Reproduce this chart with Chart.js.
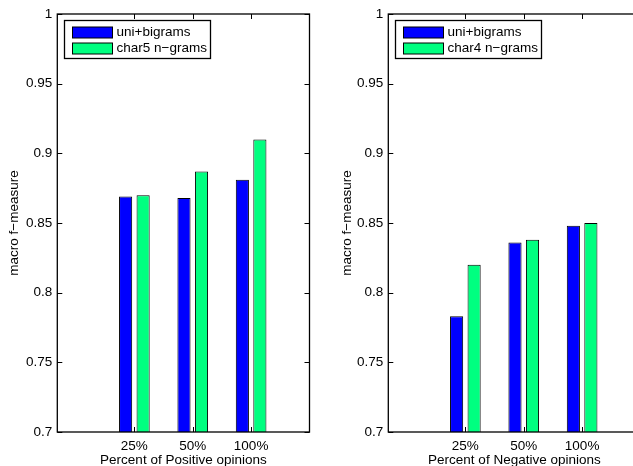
<!DOCTYPE html>
<html>
<head>
<meta charset="utf-8">
<script src="https://cdn.jsdelivr.net/npm/chart.js@4"></script>
<style>
  html, body { margin: 0; padding: 0; background: #fff; overflow: hidden; }
  #wrap { position: relative; width: 633px; height: 466px; overflow: hidden; }
  .panel { position: absolute; top: 0; height: 466px; }
  #left { left: 0; width: 320px; }
  #right { left: 320px; width: 330px; }
</style>
</head>
<body>
<div id="wrap">
  <div class="panel" id="left"><canvas id="chartPos"></canvas></div>
  <div class="panel" id="right"><canvas id="chartNeg"></canvas></div>
</div>
<script>
// data
let categories = ["25%", "50%", "100%"];
let yTicks = [0.7, 0.75, 0.8, 0.85, 0.9, 0.95, 1];

let posUniBigrams = [0.869, 0.868, 0.881];
let posChar5 = [0.870, 0.887, 0.910];

let negUniBigrams = [0.783, 0.836, 0.848];
let negChar4 = [0.820, 0.838, 0.850];

let BLUE = "rgb(0,0,255)";
let GREEN = "rgb(0,255,128)";
let FONT = "'Liberation Sans', Arial, Helvetica, sans-serif";

function points(values) {
    return values.map((v, i) => ({ x: i + 1, y: v }));
}

// box, inward ticks and legend like the matlab figure
let matlabFrame = {
    id: "matlabFrame",
    afterDraw(chart) {
        let ctx = chart.ctx;
        let a = chart.chartArea;
        let xs = chart.scales.x;
        let ys = chart.scales.y;
        let tl = 5;

        ctx.save();
        ctx.strokeStyle = "#000";
        ctx.lineWidth = 1;

        // y ticks on both sides
        ctx.beginPath();
        yTicks.forEach(t => {
            let y = Math.round(ys.getPixelForValue(t)) + 0.5;
            ctx.moveTo(a.left, y); ctx.lineTo(a.left + tl, y);
            ctx.moveTo(a.right, y); ctx.lineTo(a.right - tl, y);
        });
        // x ticks top and bottom
        categories.forEach((c, i) => {
            let x = Math.round(xs.getPixelForValue(i + 1)) + 0.5;
            ctx.moveTo(x, a.bottom); ctx.lineTo(x, a.bottom - tl);
            ctx.moveTo(x, a.top); ctx.lineTo(x, a.top + tl);
        });
        ctx.stroke();

        // legend
        let lx = Math.round(a.left + 7) + 0.5;
        let ly = Math.round(a.top + 6) + 0.5;
        ctx.font = "13.5px " + FONT;
        let maxW = 0;
        chart.data.datasets.forEach(ds => {
            maxW = Math.max(maxW, ctx.measureText(ds.label).width);
        });
        let lw = Math.round(52 + maxW + 4);
        let lh = 38;
        ctx.fillStyle = "#fff";
        ctx.fillRect(lx, ly, lw, lh);
        ctx.lineWidth = 1.3;
        ctx.strokeRect(lx, ly, lw, lh);
        ctx.lineWidth = 1;
        ctx.textBaseline = "middle";
        chart.data.datasets.forEach((ds, i) => {
            let cy = ly + 12 + i * 15.5;
            ctx.fillStyle = ds.backgroundColor;
            ctx.fillRect(lx + 8, Math.round(cy - 5.5), 40, 11);
            ctx.strokeRect(lx + 8, Math.round(cy - 5.5), 40, 11);
            ctx.fillStyle = "#000";
            ctx.fillText(ds.label, lx + 52, cy);
        });

        // axes box
        ctx.lineWidth = 1.3;
        ctx.strokeRect(a.left, a.top, a.right - a.left, a.bottom - a.top);
        ctx.restore();
    }
};

function makeChart(canvasId, s1Label, s1, s2Label, s2, xTitle, yAxisWidth, yTitlePad, rightPad) {
    return new Chart(document.getElementById(canvasId), {
        type: "bar",
        data: {
            datasets: [
                {
                    label: s1Label,
                    data: points(s1),
                    backgroundColor: BLUE,
                    borderColor: "#000",
                    borderWidth: 1
                },
                {
                    label: s2Label,
                    data: points(s2),
                    backgroundColor: GREEN,
                    borderColor: "#000",
                    borderWidth: 1
                }
            ]
        },
        options: {
            responsive: true,
            maintainAspectRatio: false,
            animation: false,
            categoryPercentage: 0.6,
            barPercentage: 0.75,
            layout: { padding: { top: 14, right: rightPad, left: 0, bottom: 0 } },
            plugins: {
                legend: { display: false },
                tooltip: { enabled: false }
            },
            scales: {
                x: {
                    type: "linear",
                    offset: false,
                    min: -0.32,
                    max: 4,
                    grid: { display: false, drawTicks: false, offset: false },
                    border: { display: false },
                    afterBuildTicks(scale) {
                        scale.ticks = categories.map((c, i) => ({ value: i + 1 }));
                    },
                    afterFit(scale) { scale.height = 34; },
                    ticks: {
                        padding: 6,
                        color: "#000",
                        maxRotation: 0,
                        font: { family: FONT, size: 13.5 },
                        callback: (v, i) => categories[i]
                    },
                    title: {
                        display: true,
                        text: xTitle,
                        color: "#000",
                        font: { family: FONT, size: 13.5 },
                        padding: { top: 0, bottom: -2 }
                    }
                },
                y: {
                    type: "linear",
                    min: 0.7,
                    max: 1,
                    grid: { display: false, drawTicks: false },
                    border: { display: false },
                    afterBuildTicks(scale) {
                        scale.ticks = yTicks.map(v => ({ value: v }));
                    },
                    afterFit(scale) { scale.width = yAxisWidth; },
                    ticks: {
                        padding: 5,
                        color: "#000",
                        font: { family: FONT, size: 13.5 },
                        callback: v => String(v)
                    },
                    title: {
                        display: true,
                        text: "macro f\u2212measure",
                        color: "#000",
                        font: { family: FONT, size: 13.5 },
                        padding: { top: yTitlePad, bottom: 0 }
                    }
                }
            }
        },
        plugins: [matlabFrame]
    });
}

makeChart("chartPos", "uni+bigrams", posUniBigrams, "char5 n\u2212grams", posChar5,
    "Percent of Positive opinions", 57.3, 6, 10.5);
makeChart("chartNeg", "uni+bigrams", negUniBigrams, "char4 n\u2212grams", negChar4,
    "Percent of Negative opinions", 68.3, 19, 9.5);
</script>
</body>
</html>
